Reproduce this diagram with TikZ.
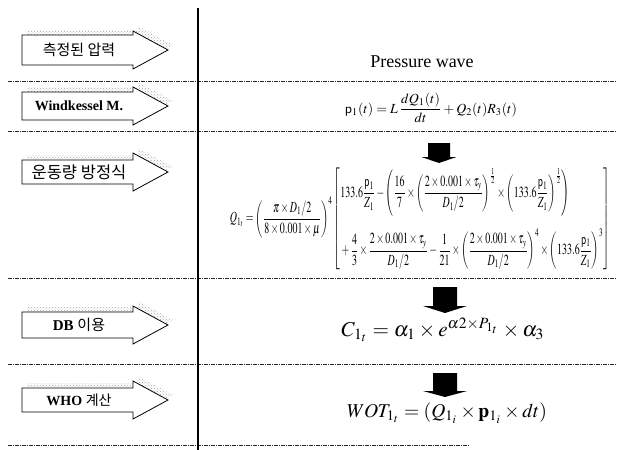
\documentclass[tikz,border=0pt]{standalone}
\usepackage{amsmath}
\usepackage{mathptmx}
\usepackage[no-math]{fontspec}
\setmainfont{Liberation Serif}
\newfontfamily\kr{Noto Sans CJK KR}
\usetikzlibrary{patterns}
\tikzset{
  sepline/.style={line width=0.6pt, black!85, dash pattern=on 4pt off 1pt on 1pt off 1pt},
  boxline/.style={draw=black, line width=0.8pt, fill=white},
  shadowfill/.style={pattern=crosshatch dots, pattern color=black!35},
  blockfill/.style={fill=black},
  lbl/.style={inner sep=0pt},
  mathlbl/.style={inner sep=0pt}
}
\newcommand\sigbox[4]{%
  \begin{scope}[shift={(0,#1)}]
    \fill[shadowfill] (27,-#2-5) -- (138,-#2-5) -- (138,-24) -- (173,-5) -- (138,14) -- (138,#2-5) -- (27,#2-5) -- cycle;
    \draw[boxline] (22,-#2) -- (133,-#2) -- (133,-19) -- (168,0) -- (133,19) -- (133,#2) -- (22,#2) -- cycle;
    \node[lbl] (#3) at (79,0) {#4};
  \end{scope}}
\newcommand\blockdn[6]{%
  \fill[blockfill] ({#1-#2},#4) -- ({#1+#2},#4) -- ({#1+#2},#5) -- ({#1+#3},#5) -- (#1,#6) -- ({#1-#3},#5) -- ({#1-#2},#5) -- cycle;}
\begin{document}
\begin{tikzpicture}[x=1pt,y=-1pt]
\useasboundingbox (0,0) rectangle (619,450);
% separators
\draw[sepline] (8,81) -- (617,81);
\draw[sepline] (8,131) -- (617,131);
\draw[sepline] (8,278) -- (617,278);
\draw[sepline] (8,364) -- (617,364);
\draw[sepline] (8,445) -- (470,445);
% vertical divider
\coordinate (vtop) at (198,8);
\coordinate (vbot) at (198,450);
\draw[line width=2pt] (vtop) -- (vbot);
% left step arrows
\sigbox{50}{15}{s1}{\kr\fontsize{15}{15}\selectfont 측정된 압력}
\sigbox{106}{14}{s2}{\fontsize{14}{14}\selectfont\bfseries Windkessel M.}
\sigbox{172}{12}{s3}{\kr\fontsize{16.5}{16.5}\selectfont 운동량 방정식}
\sigbox{325}{13}{s4}{\fontsize{15}{15}\selectfont\bfseries DB {\kr\mdseries 이용}}
\sigbox{400}{12}{s5}{\fontsize{14}{14}\selectfont\bfseries WHO {\kr\mdseries 계산}}
% right column
\node[lbl] (pw) at (422,62) {\fontsize{18}{18}\selectfont Pressure wave};
\node[mathlbl] (eq1) at (431,108) {\resizebox{172pt}{!}{$\mathsf{p}_1(t) = L\,\dfrac{dQ_1(t)}{dt} + Q_2(t)R_3(t)$}};
\blockdn{439}{11}{17.5}{143}{157}{163}
\node[mathlbl] (eq2) at (420,219) {\resizebox*{380pt}{102pt}{$Q_{1_t} = \left(\dfrac{\pi\times D_1/2}{8\times 0.001\times\mu}\right)^{4}
\left[\begin{aligned}
&133.6\frac{\mathsf{p}_1}{Z_1} - \left(\frac{16}{7}\times\left(\frac{2\times0.001\times\tau_y}{D_1/2}\right)^{\frac{1}{2}}\times\left(133.6\frac{\mathsf{p}_1}{Z_1}\right)^{\frac{1}{2}}\right)\\[4pt]
&+\frac{4}{3}\times\frac{2\times0.001\times\tau_y}{D_1/2} - \frac{1}{21}\times\left(\frac{2\times0.001\times\tau_y}{D_1/2}\right)^{4}\times\left(133.6\frac{\mathsf{p}_1}{Z_1}\right)^{3}
\end{aligned}\right]$}};
\blockdn{445}{12}{22}{287}{306}{313}
\node[mathlbl] (eq3) at (443,330) {\resizebox{203pt}{!}{$C_{1_t} = \alpha_1\times e^{\alpha 2\times P_{1_t}}\times\alpha_3$}};
\blockdn{445}{12}{22}{373}{391}{397}
\node[mathlbl] (eq4) at (447,413) {\resizebox{200pt}{!}{$WOT_{1_t} = \left(Q_{1_i}\times\mathbf{p}_{1_i}\times dt\right)$}};
\end{tikzpicture}
\end{document}
